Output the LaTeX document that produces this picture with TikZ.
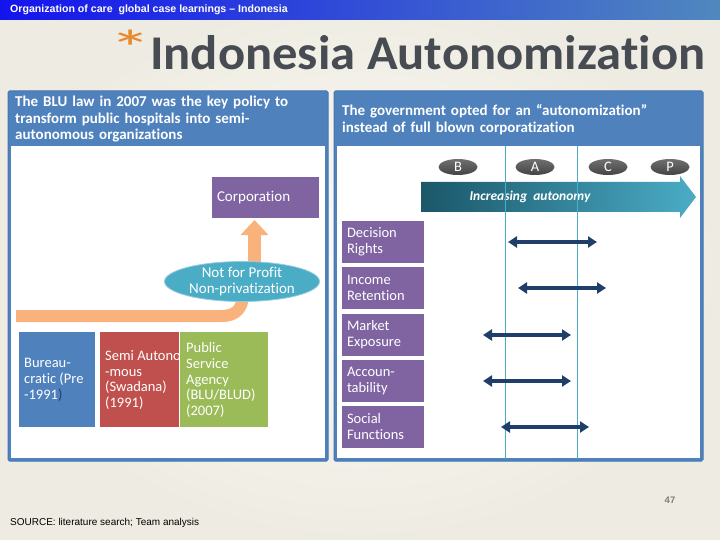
\documentclass[tikz,border=0pt]{standalone}
\usepackage{fontspec}
\usepackage{graphicx}
\setmainfont{Carlito}[Ligatures=NoCommon]
\newfontfamily\arialfont{Liberation Sans}
\usetikzlibrary{shapes.geometric,arrows.meta}
\definecolor{bginner}{HTML}{FBFAF6}
\definecolor{bgouter}{HTML}{EEECE2}
\definecolor{barleft}{HTML}{1414EE}
\definecolor{barright}{HTML}{5088BE}
\definecolor{panelblue}{HTML}{4F81BD}
\definecolor{paneledge}{HTML}{4676B0}
\definecolor{titlegray}{HTML}{474C53}
\definecolor{starorange}{HTML}{E8892F}
\definecolor{boxpurple}{HTML}{8064A2}
\definecolor{boxblue}{HTML}{4F81BD}
\definecolor{boxred}{HTML}{C0504D}
\definecolor{boxgreen}{HTML}{9BBB59}
\definecolor{tealc}{HTML}{4BACC6}
\definecolor{tealdark}{HTML}{1A5769}
\definecolor{bandorange}{HTML}{F9B27B}
\definecolor{navyc}{HTML}{1F3F6A}
\definecolor{ellgray}{HTML}{555555}
\definecolor{pagegray}{HTML}{7F7F7F}
\tikzset{
  panel/.style={fill=panelblue, draw=paneledge, line width=1pt, rounded corners=1.5pt},
  panelin/.style={fill=white},
  hdr/.style={text=white, font=\bfseries\fontsize{15}{16.5}\selectfont, align=left, inner sep=0pt, text width=340pt},
  catbox/.style={fill=boxpurple, minimum width=82pt, minimum height=42pt, inner ysep=0pt, inner xsep=5pt,
    text width=72pt, align=left, text=white, font=\fontsize{14.5}{16}\selectfont},
  stagebox/.style={minimum height=95pt, inner sep=0pt},
  stagetxt/.style={text=white, align=left, inner sep=0pt, font=\fontsize{14.5}{15.7}\selectfont},
  letter/.style={ellipse, minimum width=39pt, minimum height=16pt, inner sep=0pt,
    top color=gray!75!black!90, bottom color=ellgray!80!black, text=white, font=\fontsize{14.5}{14.5}\selectfont},
  vline/.style={draw=tealc, line width=0.9pt},
  darr/.style={draw=navyc, line width=3.4pt, {Triangle[length=9pt,width=11pt]}-{Triangle[length=9pt,width=11pt]}},
  uparr/.style={draw=bandorange, line width=13pt, -{Triangle[length=15pt,width=27pt]}},
}
\begin{document}
\begin{tikzpicture}[x=1pt,y=-1pt]
\useasboundingbox (0,0) rectangle (720,540);
% background
\shade[inner color=bginner, outer color=bgouter] (0,0) rectangle (720,540);
% top bar
\shade[left color=barleft, right color=barright] (0,0) rectangle (720,19.5);
\node[anchor=west, inner sep=0pt, text=white, font=\arialfont\bfseries\fontsize{10.6}{11}\selectfont] (bartext) at (10,10)
  {Organization of care\ \ global case learnings – Indonesia};
% title
\node[anchor=base, inner sep=0pt, text=starorange, font=\fontsize{50}{50}\selectfont] (star) at (130.5,66) {\scalebox{1.7}[1]{*}};
\node[anchor=base west, inner sep=0pt, text=titlegray] (title) at (150,70)
  {\resizebox{555pt}{34pt}{\bfseries Indonesia Autonomization}};
% panels
\path[panel] (8,91) rectangle (328,461);
\path[panelin] (11,146) rectangle (325,458);
\path[panel] (334,91) rectangle (703,461);
\path[panelin] (337,146) rectangle (700,458);
\node[hdr, anchor=base west] (lhdr) at (15,107)
  {The BLU law in 2007 was the key policy to\\transform public hospitals into semi-\\autonomous organizations};
\node[hdr, anchor=base west] (rhdr) at (342,116)
  {The government opted for an \textquotedblleft autonomization\textquotedblright\\instead of full blown corporatization};
% increasing autonomy arrow
\shade[left color=tealdark, right color=tealc] (421,182) -- (680,182) -- (680,176) -- (696,197) -- (680,218) -- (680,212) -- (421,212) -- cycle;
\node[text=white, inner sep=0pt, font=\bfseries\itshape\fontsize{13.5}{14}\selectfont] (incr) at (530,197) {Increasing\ \ autonomy};
% vertical guide lines
\coordinate (v1t) at (505.5,146); \coordinate (v1b) at (505.5,459);
\coordinate (v2t) at (577,146); \coordinate (v2b) at (577,459);
\draw[vline] (v1t) -- (v1b);
\draw[vline] (v2t) -- (v2b);
% letters
\node[letter] (B) at (458,167) {B};
\node[letter] (A) at (535,167) {A};
\node[letter] (C) at (608,167) {C};
\node[letter] (P) at (670,167) {P};
% category boxes
\node[catbox] (dr) at (383,242) {Decision\\Rights};
\node[catbox] (ir) at (383,288) {Income\\Retention};
\node[catbox] (me) at (383,335) {Market\\Exposure};
\node[catbox] (ac) at (383,381) {Accoun-\\tability};
\node[catbox] (sf) at (383,427) {Social\\Functions};
% double arrows
\coordinate (d1a) at (508,242); \coordinate (d1b) at (597,242);
\coordinate (d2a) at (518,288); \coordinate (d2b) at (606,288);
\coordinate (d3a) at (483,335); \coordinate (d3b) at (571,335);
\coordinate (d4a) at (483,381); \coordinate (d4b) at (571,381);
\coordinate (d5a) at (501,427); \coordinate (d5b) at (589,427);
\draw[darr] (d1a) -- (d1b);
\draw[darr] (d2a) -- (d2b);
\draw[darr] (d3a) -- (d3b);
\draw[darr] (d4a) -- (d4b);
\draw[darr] (d5a) -- (d5b);
% left panel: corporation
\node[fill=boxpurple, minimum width=107pt, minimum height=41pt, inner xsep=5pt, inner ysep=0pt, text width=97pt,
  align=left, text=white, font=\fontsize{15}{16}\selectfont] (corp) at (265.5,197.5) {Corporation};
% orange band
\coordinate (band0) at (16,316);
\coordinate (band1) at (243,294);
\draw[draw=bandorange, line width=12pt] (band0) -- (222,316) .. controls (236,316) and (243,308) .. (band1);
% orange up arrow
\coordinate (up0) at (254.5,268);
\coordinate (up1) at (254.5,220);
\draw[uparr] (up0) -- (up1);
% not for profit ellipse
\node[ellipse, fill=tealc, draw=tealc!60!white, line width=0.8pt, minimum width=155pt, minimum height=34pt, inner sep=0pt,
  text=white, align=center, font=\fontsize{15}{15.5}\selectfont] (nfp) at (242,281.5) {Not for Profit\\Non-privatization};
% stage boxes
\node[stagebox, fill=boxblue, minimum width=76pt] (bur) at (57,379.5) {};
\node[stagetxt, anchor=west] (burtxt) at (24,380) {Bureau-\\cratic (Pre\\-1991{\color{navyc})}};
\node[stagebox, fill=boxred, minimum width=79pt] (swa) at (139.5,379.5) {};
\node[stagetxt, anchor=west] (swatxt) at (105,380) {Semi Autono\\-mous\\(Swadana)\\(1991)};
\node[stagebox, fill=boxgreen, minimum width=88pt] (psa) at (224,379.5) {};
\node[stagetxt, anchor=west] (psatxt) at (186,380) {Public\\Service\\Agency\\(BLU/BLUD)\\(2007)};
% footer
\node[anchor=west, inner sep=0pt, font=\arialfont\fontsize{10}{10}\selectfont] (src) at (10,523) {SOURCE: literature search; Team analysis};
\node[inner sep=0pt, text=pagegray, font=\arialfont\bfseries\fontsize{9.5}{9.5}\selectfont] (pg) at (670,500) {47};
\end{tikzpicture}
\end{document}
